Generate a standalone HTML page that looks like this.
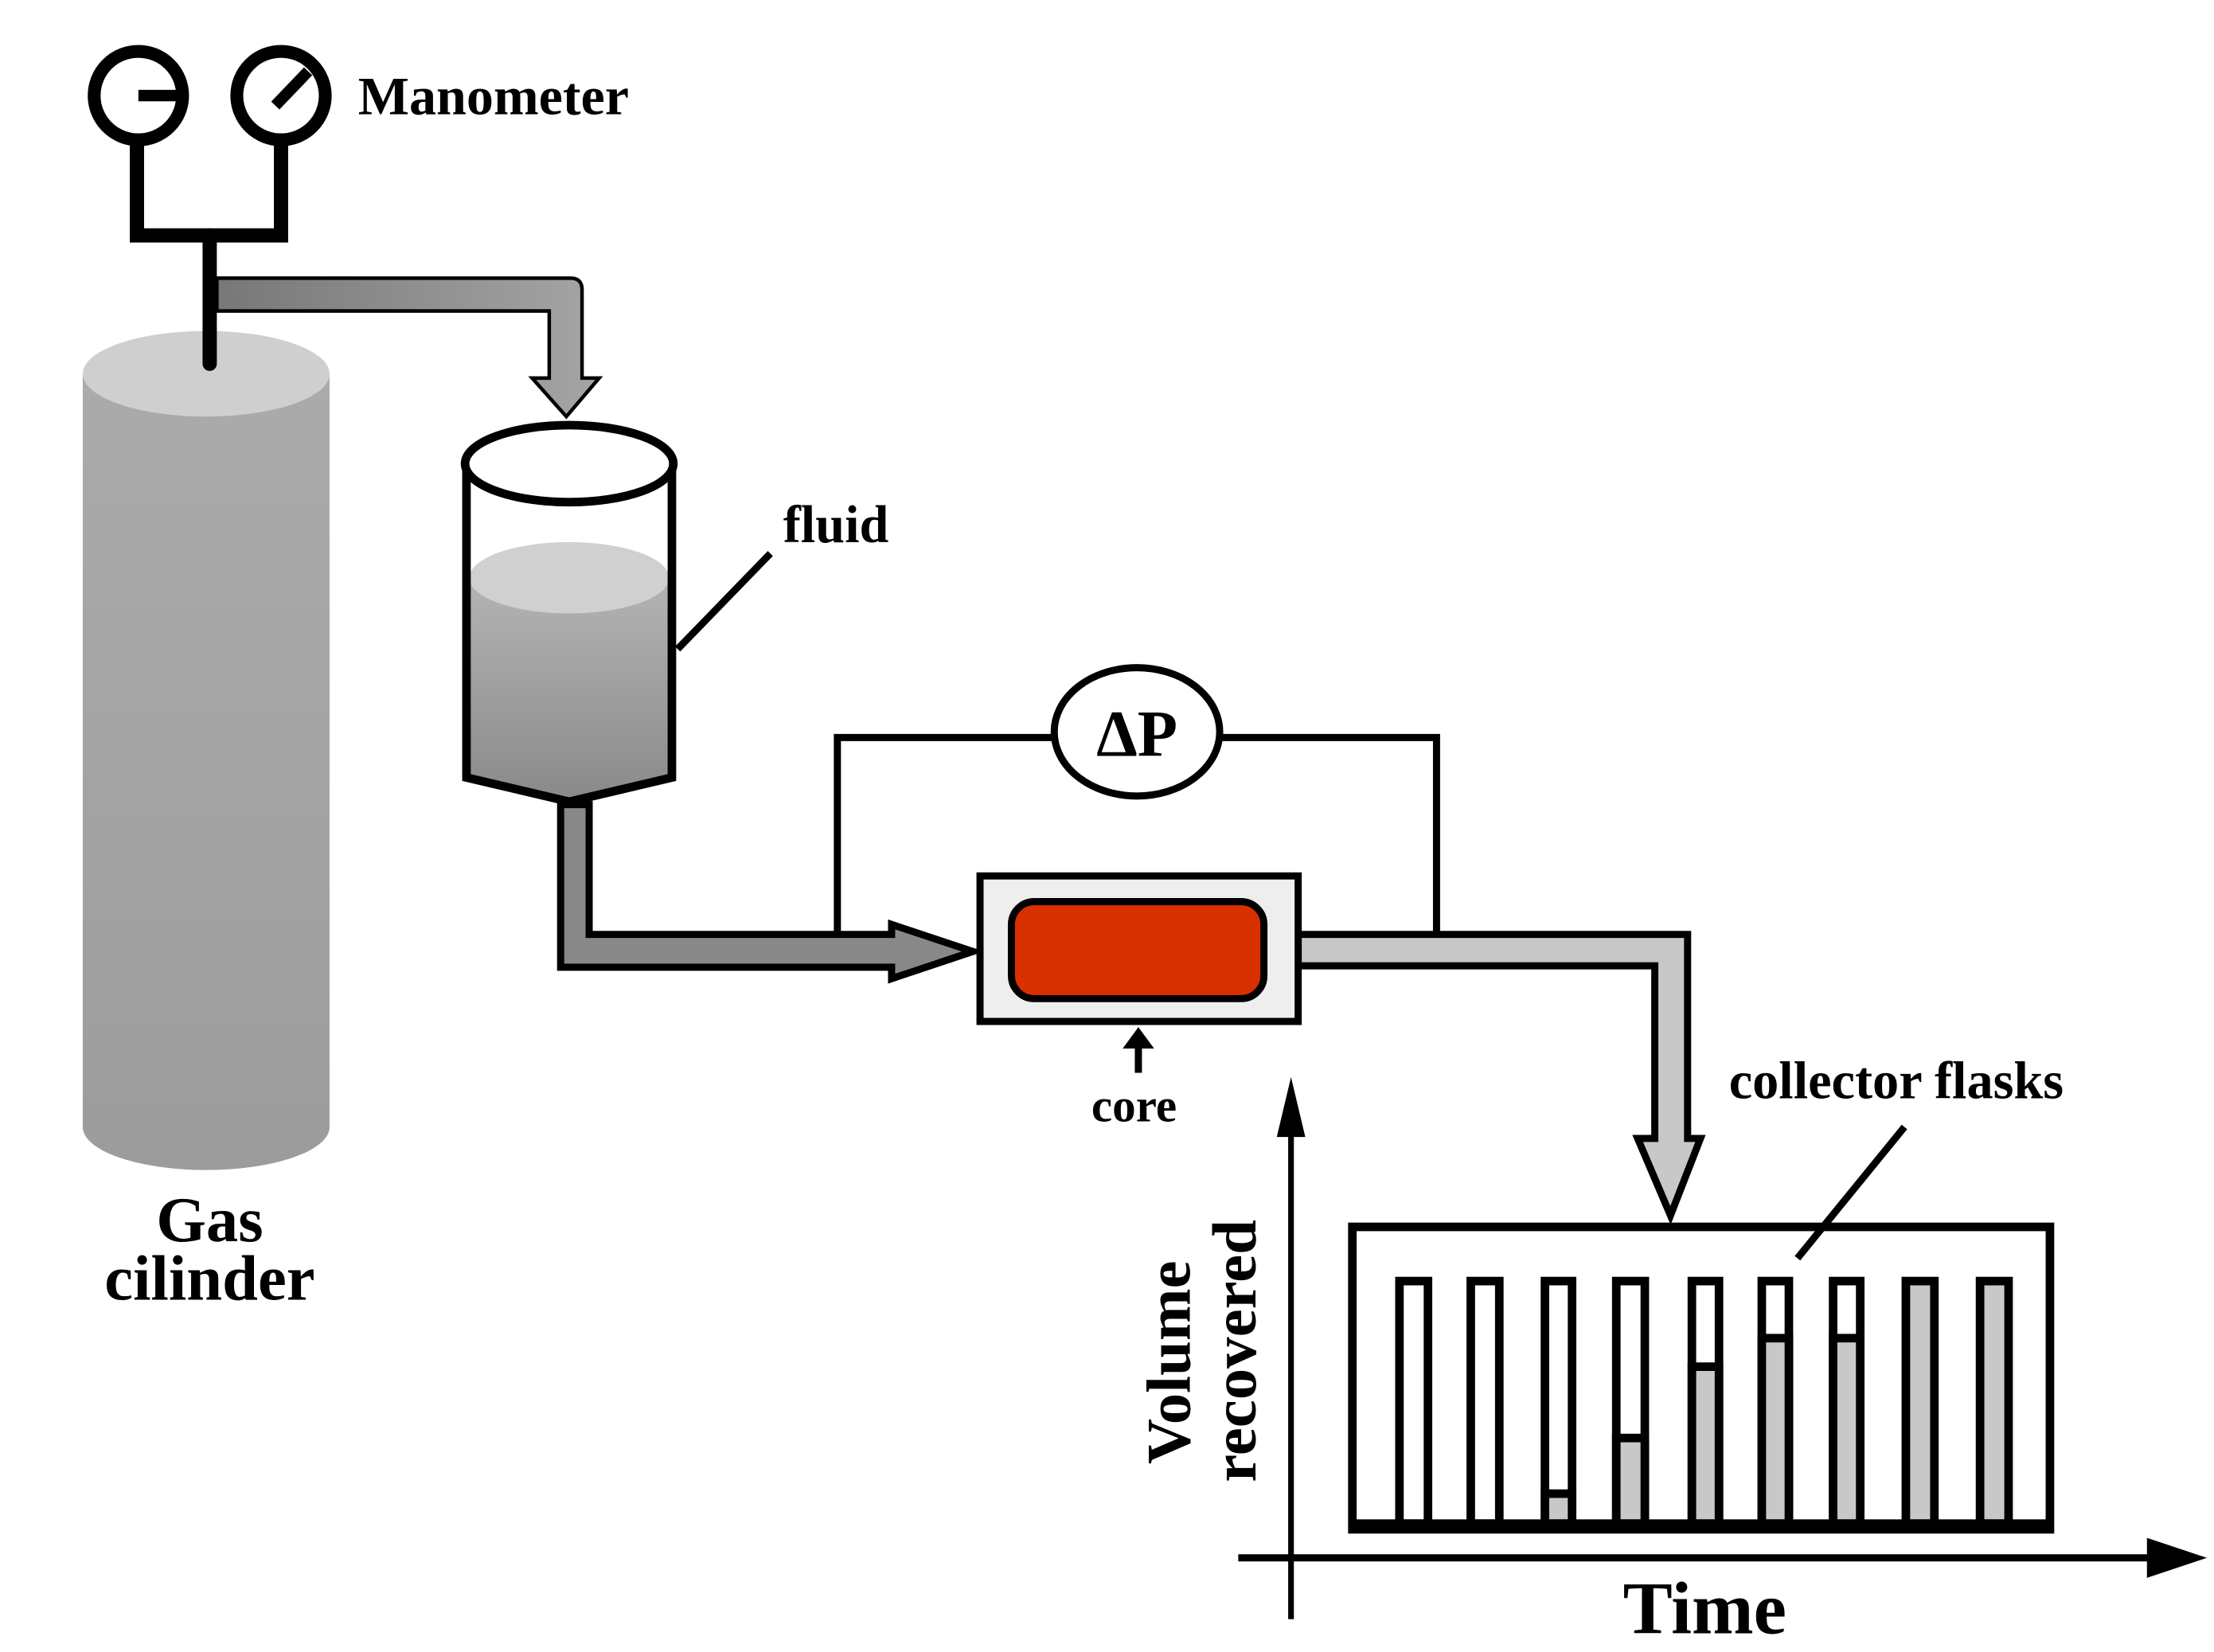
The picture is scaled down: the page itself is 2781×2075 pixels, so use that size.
<!DOCTYPE html>
<html><head><meta charset="utf-8"><style>html,body{margin:0;padding:0;background:#fff}svg{display:block}</style></head>
<body>
<svg width="2781" height="2075" viewBox="0 0 1552 1158" xmlns="http://www.w3.org/2000/svg" font-family="'Liberation Serif', serif" font-weight="bold">
<defs>
<linearGradient id="cyl" x1="0" y1="0" x2="0" y2="1"><stop offset="0" stop-color="#ababab"/><stop offset="1" stop-color="#9c9c9c"/></linearGradient>
<linearGradient id="liq" x1="0" y1="0" x2="0" y2="1"><stop offset="0" stop-color="#b4b4b4"/><stop offset="1" stop-color="#8a8a8a"/></linearGradient>
<linearGradient id="pipe1" x1="0" y1="0" x2="1" y2="0"><stop offset="0" stop-color="#777"/><stop offset="1" stop-color="#a5a5a5"/></linearGradient>
</defs>
<path d="M58 262 L58 790 A86 30 0 0 0 231 790 L231 262 Z" fill="url(#cyl)"/>
<ellipse cx="144.5" cy="262" rx="86.5" ry="30" fill="#cfcfcf"/>
<circle cx="97" cy="67" r="31" fill="#fff" stroke="#000" stroke-width="9"/>
<circle cx="197" cy="67" r="31" fill="#fff" stroke="#000" stroke-width="9"/>
<line x1="97" y1="67" x2="124" y2="67" stroke="#000" stroke-width="8"/>
<line x1="193" y1="74" x2="216" y2="50" stroke="#000" stroke-width="8"/>
<path d="M96 98 V165 H197 V98" fill="none" stroke="#000" stroke-width="10"/>
<line x1="147" y1="165" x2="147" y2="255" stroke="#000" stroke-width="10" stroke-linecap="round"/>
<path d="M152 195 H400 Q408 195 408 203 V265 H420 L397 292 L373 265 H385 V218 H152 Z" fill="url(#pipe1)" stroke="#000" stroke-width="2.5"/>
<path d="M327 325 V545 L399 562 L471 545 V325" fill="#fff" stroke="none"/>
<path d="M329 405 V543 L399 560 L469 543 V405 Z" fill="url(#liq)"/>
<ellipse cx="399" cy="405" rx="70" ry="25" fill="#d0d0d0"/>
<path d="M327 325 V545 L399 562 L471 545 V325" fill="none" stroke="#000" stroke-width="6"/>
<ellipse cx="399" cy="325" rx="73" ry="27" fill="#fff" stroke="#000" stroke-width="6"/>
<line x1="475" y1="455" x2="540" y2="388" stroke="#000" stroke-width="5"/>
<text x="549" y="380" font-size="37">fluid</text>
<text x="251" y="80" font-size="38">Manometer</text>
<path d="M393 564 V678 H625 V686 L682 667 L625 648 V655 H413 V564 Z" fill="#888" stroke="#000" stroke-width="5"/>
<path d="M587 655 V517 H740 M855 517 H1007 V657" fill="none" stroke="#000" stroke-width="5"/>
<ellipse cx="797" cy="513" rx="58" ry="45" fill="#fff" stroke="#000" stroke-width="5"/>
<text x="797" y="530" font-size="46" text-anchor="middle">ΔP</text>
<path d="M910 655 H1183 V798 H1192 L1171 852 L1148 798 H1160 V677 H910 Z" fill="#c8c8c8" stroke="#000" stroke-width="5"/>
<rect x="687" y="614" width="223" height="102" fill="#eee" stroke="#000" stroke-width="5"/>
<rect x="709" y="632" width="177" height="68" rx="16" fill="#d93000" stroke="#000" stroke-width="5"/>
<line x1="798" y1="752" x2="798" y2="728" stroke="#000" stroke-width="5"/>
<path d="M787 735 L798 720 L809 735 Z" fill="#000"/>
<text x="795" y="786" font-size="33" text-anchor="middle">core</text>
<text x="147" y="870" font-size="45" text-anchor="middle">Gas</text>
<text x="147" y="911" font-size="45" text-anchor="middle">cilinder</text>
<line x1="905" y1="1135" x2="905" y2="790" stroke="#000" stroke-width="4"/>
<path d="M895 797 L905 755 L915 797 Z" fill="#000"/>
<line x1="868" y1="1092" x2="1510" y2="1092" stroke="#000" stroke-width="5"/>
<path d="M1505 1078 L1547 1092 L1505 1106 Z" fill="#000"/>
<text transform="translate(834,955) rotate(-90)" font-size="44" text-anchor="middle" fill="#000">Volume</text>
<text transform="translate(880,947) rotate(-90)" font-size="44" text-anchor="middle" fill="#000">recovered</text>
<text x="1195" y="1145" font-size="52" text-anchor="middle">Time</text>
<rect x="948" y="860" width="489" height="212" fill="#fff" stroke="#000" stroke-width="6"/>
<g stroke="#000" stroke-width="6">
<rect x="981" y="898" width="20" height="170" fill="#fff"/>
<rect x="1031" y="898" width="20" height="170" fill="#fff"/>
<rect x="1083" y="898" width="19" height="170" fill="#fff"/>
<rect x="1133" y="898" width="20" height="170" fill="#fff"/>
<rect x="1186" y="898" width="19" height="170" fill="#fff"/>
<rect x="1235" y="898" width="19" height="170" fill="#fff"/>
<rect x="1285" y="898" width="19" height="170" fill="#fff"/>
<rect x="1336" y="898" width="20" height="170" fill="#c8c8c8"/>
<rect x="1388" y="898" width="20" height="170" fill="#c8c8c8"/>
</g>
<g fill="#c8c8c8" stroke="#000" stroke-width="6">
<rect x="1083" y="1047" width="19" height="21"/>
<rect x="1133" y="1008" width="20" height="60"/>
<rect x="1186" y="958" width="19" height="110"/>
<rect x="1235" y="938" width="19" height="130"/>
<rect x="1285" y="938" width="19" height="130"/>
</g>
<line x1="948" y1="1069" x2="1437" y2="1069" stroke="#000" stroke-width="8"/>
<line x1="1335" y1="790" x2="1260" y2="882" stroke="#000" stroke-width="5"/>
<text x="1212" y="770" font-size="37">collector flasks</text>
</svg>
</body></html>
